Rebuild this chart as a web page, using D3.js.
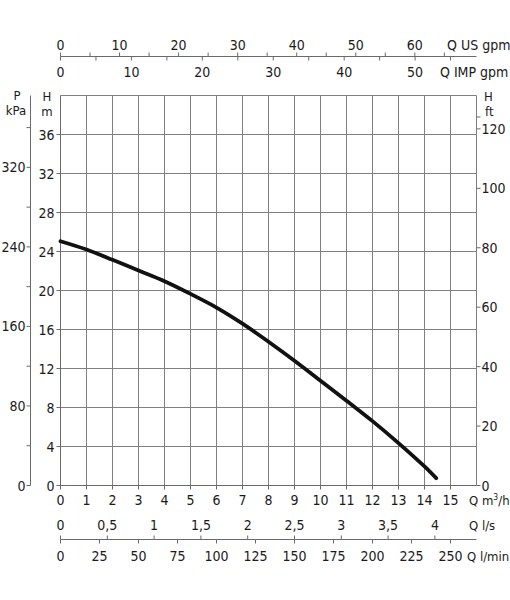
<!DOCTYPE html>
<html>
<head>
<meta charset="utf-8">
<script src="https://cdn.jsdelivr.net/npm/d3@7"></script>
<style>
  html, body { margin: 0; padding: 0; background: #fff; }
  svg text { font-family: 'Liberation Sans Narrow', 'Arial Narrow', 'DejaVu Sans Condensed', sans-serif; font-size: 14px; fill: #1a1a1a; }
  svg text.unit { font-size: 13px; }
</style>
</head>
<body>
<svg id="chart" width="510" height="600"></svg>
<script>
// ---- data ----
const flowQ = [0, 1, 2, 3, 4, 5, 6, 7, 8, 9, 10, 11, 12, 13, 14, 14.45];          // m3/h
const headH = [25.05, 24.2, 23.15, 22.05, 20.95, 19.65, 18.25, 16.6, 14.75, 12.8, 10.75, 8.7, 6.6, 4.35, 1.95, 0.75]; // m
const qTicks = [0, 1, 2, 3, 4, 5, 6, 7, 8, 9, 10, 11, 12, 13, 14, 15];
const hTicks = [0, 4, 8, 12, 16, 20, 24, 28, 32, 36];
const pTicks = [0, 80, 160, 240, 320];
const pMinorTicks = [40, 120, 200, 280, 360];
const ftTicks = [0, 20, 40, 60, 80, 100, 120];
const ftMinorTicks = [124];
const usTicks = [0, 10, 20, 30, 40, 50, 60];
const usMinorTicks = [5, 15, 25, 35, 45, 55, 65];
const impTicks = [0, 10, 20, 30, 40, 50];
const impMinorTicks = [5, 15, 25, 35, 45, 55];
const lsTicks = [0, 0.5, 1, 1.5, 2, 2.5, 3, 3.5, 4];
const lsLabels = ["0", "0,5", "1", "1,5", "2", "2,5", "3", "3,5", "4"];
const lminTicks = [0, 25, 50, 75, 100, 125, 150, 175, 200, 225, 250];

// unit conversions to m3/h and m
const US_GPM = 0.2271247, IMP_GPM = 0.2727654, LS = 3.6, LMIN = 0.06;
const KPA = 1 / 9.80665, FT = 0.3048;

// ---- layout ----
const svg = d3.select("#chart");
const x = d3.scaleLinear().domain([0, 16]).range([60.5, 476.5]);
const y = d3.scaleLinear().domain([0, 40]).range([485.5, 95.5]);
const gridColor = "#808080", axisColor = "#6a6a6a";

// grid
const g = svg.append("g");
g.selectAll("line.v").data(d3.range(1, 17)).join("line")
  .attr("x1", d => x(d)).attr("x2", d => x(d)).attr("y1", y(0)).attr("y2", y(40))
  .attr("stroke", gridColor).attr("stroke-width", 1);
g.selectAll("line.h").data(d3.range(4, 41, 4)).join("line")
  .attr("x1", x(0)).attr("x2", x(16)).attr("y1", d => y(d)).attr("y2", d => y(d))
  .attr("stroke", gridColor).attr("stroke-width", 1);
// left and bottom axis lines
g.append("line").attr("x1", x(0)).attr("x2", x(0)).attr("y1", y(0)).attr("y2", y(40)).attr("stroke", axisColor);
g.append("line").attr("x1", x(0)).attr("x2", x(16)).attr("y1", y(0)).attr("y2", y(0)).attr("stroke", axisColor);

// H (m) left ticks & labels
g.selectAll("line.ht").data(hTicks).join("line")
  .attr("x1", x(0) - 4).attr("x2", x(0)).attr("y1", d => y(d)).attr("y2", d => y(d)).attr("stroke", axisColor);
g.selectAll("text.hl").data(hTicks).join("text")
  .attr("x", x(0) - 6).attr("y", d => y(d) + 5).attr("text-anchor", "end").text(d => d);
g.append("text").attr("class", "unit").attr("x", 47).attr("y", 101).attr("text-anchor", "middle").text("H");
g.append("text").attr("class", "unit").attr("x", 47).attr("y", 116).attr("text-anchor", "middle").text("m");

// P (kPa) axis
const pAxisX = 30.5;
g.append("line").attr("x1", pAxisX).attr("x2", pAxisX).attr("y1", y(0)).attr("y2", y(40)).attr("stroke", axisColor);
g.selectAll("line.pt").data(pTicks.concat(pMinorTicks)).join("line")
  .attr("x1", pAxisX - 4).attr("x2", pAxisX).attr("y1", d => y(d * KPA)).attr("y2", d => y(d * KPA)).attr("stroke", axisColor);
g.selectAll("text.pl").data(pTicks).join("text")
  .attr("x", pAxisX - 5).attr("y", d => y(d * KPA) + 5).attr("text-anchor", "end").text(d => d);
g.append("text").attr("class", "unit").attr("x", 17).attr("y", 100).attr("text-anchor", "middle").text("P");
g.append("text").attr("class", "unit").attr("x", 16).attr("y", 115).attr("text-anchor", "middle").text("kPa");

// H (ft) right axis
g.selectAll("line.ft").data(ftTicks.concat(ftMinorTicks)).join("line")
  .attr("x1", x(16)).attr("x2", x(16) + 4).attr("y1", d => y(d * FT)).attr("y2", d => y(d * FT)).attr("stroke", axisColor);
g.selectAll("text.fl").data(ftTicks).join("text")
  .attr("x", x(16) + 5).attr("y", d => y(d * FT) + 5).attr("text-anchor", "start").text(d => d);
g.append("text").attr("class", "unit").attr("x", 484).attr("y", 101).text("H");
g.append("text").attr("class", "unit").attr("x", 485).attr("y", 116).text("ft");

// Q m3/h bottom labels
g.selectAll("line.qt").data(qTicks).join("line")
  .attr("x1", d => x(d)).attr("x2", d => x(d)).attr("y1", y(0)).attr("y2", y(0) + 4).attr("stroke", axisColor);
g.selectAll("text.ql").data(qTicks).join("text")
  .attr("x", d => x(d)).attr("y", 505).attr("text-anchor", "middle").text(d => d);
const qLab = g.append("text").attr("class", "unit").attr("x", 469).attr("y", 505);
qLab.append("tspan").text("Q m");
qLab.append("tspan").attr("dy", -5).style("font-size", "8.5px").text("3");
qLab.append("tspan").attr("dy", 5).text("/h");

// l/s and l/min axis
const lsY = 539.5;
g.append("line").attr("x1", x(0)).attr("x2", x(16)).attr("y1", lsY).attr("y2", lsY).attr("stroke", axisColor);
g.selectAll("line.lst").data(lsTicks).join("line")
  .attr("x1", d => x(d * LS)).attr("x2", d => x(d * LS)).attr("y1", lsY - 4).attr("y2", lsY).attr("stroke", axisColor);
g.selectAll("text.lsl").data(lsTicks).join("text")
  .attr("x", d => x(d * LS)).attr("y", 530).attr("text-anchor", "middle").text((d, i) => lsLabels[i]);
g.append("text").attr("class", "unit").attr("x", 469).attr("y", 530).text("Q l/s");
g.selectAll("line.lmt").data(lminTicks).join("line")
  .attr("x1", d => x(d * LMIN)).attr("x2", d => x(d * LMIN)).attr("y1", lsY).attr("y2", lsY + 4).attr("stroke", axisColor);
g.selectAll("text.lml").data(lminTicks).join("text")
  .attr("x", d => x(d * LMIN)).attr("y", 561).attr("text-anchor", "middle").text(d => d);
g.append("text").attr("class", "unit").attr("x", 467).attr("y", 561).text("Q l/min");

// US / IMP gpm top axis
const topY = 56.5;
g.append("line").attr("x1", x(0)).attr("x2", x(16)).attr("y1", topY).attr("y2", topY).attr("stroke", axisColor);
g.selectAll("line.ust").data(usTicks.concat(usMinorTicks)).join("line")
  .attr("x1", d => x(d * US_GPM)).attr("x2", d => x(d * US_GPM)).attr("y1", topY - 4).attr("y2", topY).attr("stroke", axisColor);
g.selectAll("text.usl").data(usTicks).join("text")
  .attr("x", d => x(d * US_GPM)).attr("y", 50).attr("text-anchor", "middle").text(d => d);
g.append("text").attr("x", 447).attr("y", 50).text("Q US gpm");
g.selectAll("line.imt").data(impTicks.concat(impMinorTicks)).join("line")
  .attr("x1", d => x(d * IMP_GPM)).attr("x2", d => x(d * IMP_GPM)).attr("y1", topY).attr("y2", topY + 4).attr("stroke", axisColor);
g.selectAll("text.iml").data(impTicks).join("text")
  .attr("x", d => x(d * IMP_GPM)).attr("y", 77).attr("text-anchor", "middle").text(d => d);
g.append("text").attr("x", 440).attr("y", 77).text("Q IMP gpm");

// pump curve
const line = d3.line().x((d, i) => x(flowQ[i])).y(d => y(d)).curve(d3.curveCatmullRom.alpha(0.5));
svg.append("path").datum(headH).attr("d", line)
  .attr("fill", "none").attr("stroke", "#111").attr("stroke-width", 3.8).attr("stroke-linecap", "round");
</script>
</body>
</html>
